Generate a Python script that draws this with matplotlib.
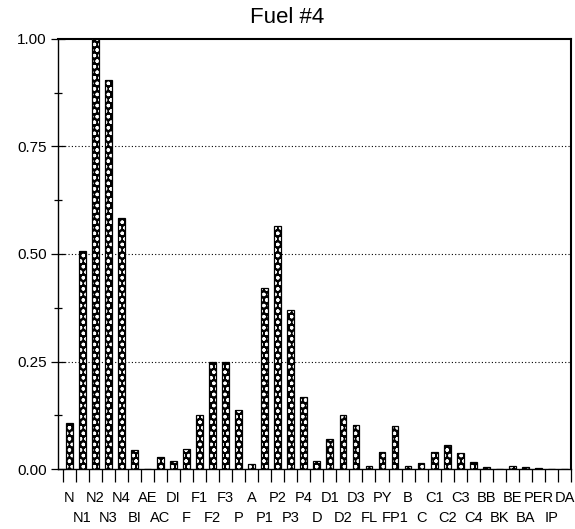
import matplotlib.pyplot as plt
from matplotlib.ticker import MultipleLocator, FixedLocator

plt.rcParams['font.family'] = ['Liberation Sans', 'DejaVu Sans']
plt.rcParams['hatch.linewidth'] = 0.9

compounds = ["N", "N1", "N2", "N3", "N4", "BI", "AE", "AC", "DI", "F",
             "F1", "F2", "F3", "P", "A", "P1", "P2", "P3", "P4", "D",
             "D1", "D2", "D3", "FL", "PY", "FP1", "B", "C", "C1", "C2",
             "C3", "C4", "BB", "BK", "BE", "BA", "PER", "IP", "DA"]
rel_conc = [0.107, 0.508, 1.00, 0.904, 0.583, 0.044, 0.0, 0.028, 0.019, 0.047,
            0.126, 0.250, 0.250, 0.137, 0.012, 0.420, 0.566, 0.370, 0.168, 0.018,
            0.070, 0.126, 0.103, 0.007, 0.040, 0.099, 0.007, 0.014, 0.040, 0.056,
            0.037, 0.016, 0.004, 0.001, 0.007, 0.004, 0.003, 0.0, 0.0]
y_ticks = [0.0, 0.25, 0.5, 0.75, 1.0]

x = list(range(len(compounds)))

fig = plt.figure(figsize=(5.75, 5.29), dpi=100)
ax = fig.add_axes([0.1009, 0.1134, 0.8921, 0.8129])

# stippled bars: dark fill with white dots, then a black outline on top
ax.bar(x, rel_conc, width=0.52, color="black", edgecolor="white",
       hatch="ooo", linewidth=0, zorder=3)
ax.bar(x, rel_conc, width=0.52, fill=False, edgecolor="black",
       linewidth=0.9, zorder=4)

ax.set_xlim(-0.86, len(compounds) - 0.5)
ax.set_ylim(0, 1)

# y axis
ax.set_yticks(y_ticks)
ax.set_yticklabels([f"{v:.2f}" for v in y_ticks], fontsize=11)
ax.yaxis.set_minor_locator(MultipleLocator(0.125))
ax.tick_params(axis="y", which="major", direction="inout", length=10,
               width=0.9, pad=3)
ax.tick_params(axis="y", which="minor", direction="inout", length=6,
               width=0.9)
for v in y_ticks[1:-1]:
    ax.axhline(v, color="black", linestyle=(0, (1, 2)), linewidth=0.8,
               zorder=1)

# x axis: boundary ticks without labels
ax.xaxis.set_major_locator(FixedLocator([i - 0.5 for i in range(len(compounds) + 1)]))
ax.xaxis.set_major_formatter(plt.NullFormatter())
ax.tick_params(axis="x", which="major", direction="out", length=9.5, width=0.9)

# names alternate between two rows: even ones on the main axis ...
ax.xaxis.set_minor_locator(FixedLocator(x[0::2]))
ax.set_xticklabels(compounds[0::2], minor=True, fontsize=10.5)
ax.tick_params(axis="x", which="minor", length=0, pad=15.5)

# ... odd ones on a secondary axis with a deeper pad
sec = ax.secondary_xaxis("bottom")
sec.set_xticks(x[1::2])
sec.set_xticklabels(compounds[1::2], fontsize=10.5)
sec.tick_params(axis="x", length=0, pad=30)
sec.spines["bottom"].set_visible(False)

for side in ["left", "bottom"]:
    ax.spines[side].set_linewidth(1.0)
for side in ["top", "right"]:
    ax.spines[side].set_linewidth(1.5)

fig.text(0.5, 0.966, "Fuel #4", ha="center", va="center", fontsize=16)

fig.savefig("out.png", dpi=100)
